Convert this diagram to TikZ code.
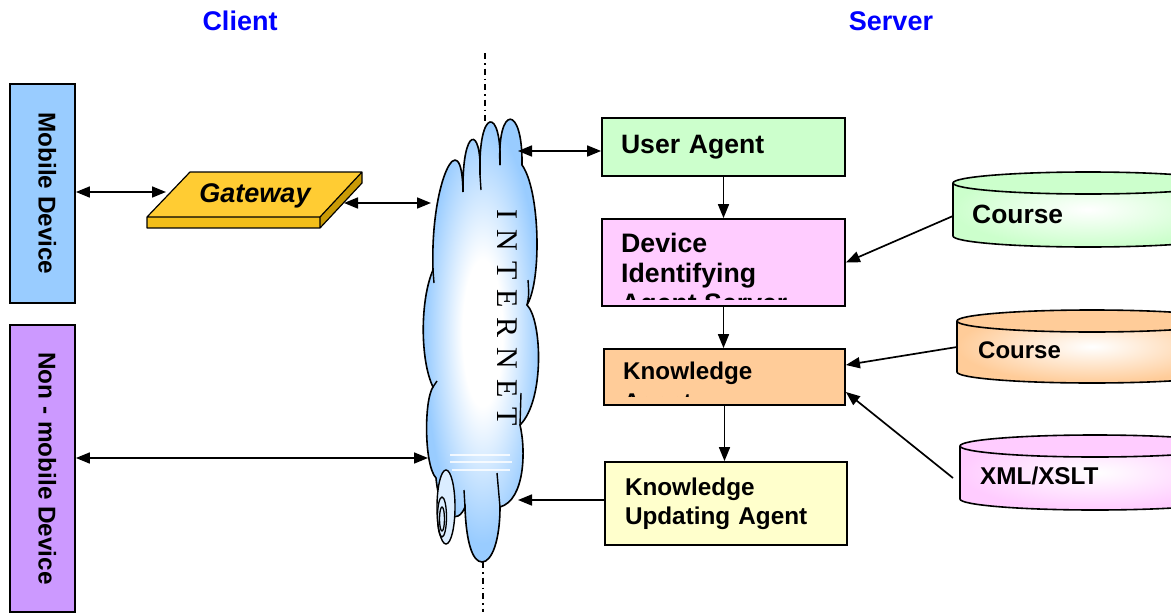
\documentclass[tikz,border=0pt]{standalone}
\usepackage{fontspec}
\setmainfont{Liberation Sans}
\newfontfamily\inetfont{Liberation Serif}
\usetikzlibrary{arrows.meta,calc}

\definecolor{titleblue}{HTML}{0000FF}
\definecolor{mobblue}{HTML}{99CCFF}
\definecolor{nonmob}{HTML}{CC99FF}
\definecolor{gwtop}{HTML}{FFCC33}
\definecolor{gwfront}{HTML}{F2BE1A}
\definecolor{gwside}{HTML}{C99A06}
\definecolor{uagreen}{HTML}{CCFFCC}
\definecolor{dipink}{HTML}{FFCCFF}
\definecolor{kaorange}{HTML}{FFCC99}
\definecolor{kuyellow}{HTML}{FFFFCC}
\definecolor{cloudblue}{HTML}{99CCFF}

% white core fading to blue towards the rim of the cloud
\pgfdeclareradialshading{cloudsh}{\pgfpoint{0bp}{0bp}}{rgb(0bp)=(1,1,1); rgb(8bp)=(1,1,1); rgb(23bp)=(0.6,0.8,1); rgb(50bp)=(0.6,0.8,1)}

\begin{document}
\begin{tikzpicture}[x=1pt,y=1pt,
  boxst/.style={draw=black, line width=1.8pt, rectangle, inner sep=0pt},
  boxtext/.style={inner sep=0pt, align=left},
  arr/.style={line width=1.7pt, -{Triangle[length=14pt,width=11pt]}},
  darr/.style={line width=1.7pt, {Triangle[length=14pt,width=11pt]}-{Triangle[length=14pt,width=11pt]}},
  divider/.style={line width=1.5pt, dash pattern=on 6pt off 4pt on 1.5pt off 4pt},
  outline/.style={draw=black, line width=1.6pt},
  title/.style={font=\bfseries\fontsize{27}{32}\selectfont, text=titleblue}]

\useasboundingbox (0,0) rectangle (1171,-616);
\clip (0,0) rectangle (1171,-616);

% column headings
\node[title] (client) at (240,-21) {Client};
\node[title] (server) at (891,-21) {Server};

% client / server divider
\coordinate (dt1) at (485,-53);  \coordinate (dt2) at (485,-121);
\coordinate (db1) at (483,-562); \coordinate (db2) at (483,-612);
\draw[divider] (dt1) -- (dt2);
\draw[divider] (db1) -- (db2);

% client devices
\node[boxst, fill=mobblue, rotate=-90, minimum width=219, minimum height=65, text depth=10pt,
      font=\bfseries\fontsize{24.3}{29}\selectfont] (md) at (42.5,-193.5) {Mobile Device};
\node[boxst, fill=nonmob, rotate=-90, minimum width=287, minimum height=65, text depth=10pt,
      font=\bfseries\fontsize{24.3}{29}\selectfont] (nm) at (42.5,-468.5) {Non - mobile Device};

% gateway slab
\fill[gwtop] (147,-217) -- (190,-172) -- (362,-172) -- (320,-217) -- cycle;
\fill[gwfront] (147,-217) -- (320,-217) -- (320,-228) -- (147,-228) -- cycle;
\fill[gwside] (320,-217) -- (362,-172) -- (362,-183) -- (320,-228) -- cycle;
\draw[line width=1.2pt, line join=round] (147,-217) -- (190,-172) -- (362,-172) -- (362,-183) -- (320,-228) -- (147,-228) -- cycle
  (147,-217) -- (320,-217) -- (362,-172) (320,-217) -- (320,-228);
\node[font=\bfseries\itshape\fontsize{27}{32}\selectfont] (gw) at (255,-196) {Gateway};
\coordinate (gwl) at (166,-192);
\coordinate (gwr) at (344,-203);

% internet cloud
\path[outline, shading=cloudsh] (480,-175)
  .. controls (478,-106) and (502,-106) .. (500,-165)
  .. controls (497,-104) and (523,-104) .. (522,-165)
  .. controls (540,-190) and (542,-280) .. (527,-305)
  .. controls (542,-320) and (545,-400) .. (520,-425)
  .. controls (526,-450) and (525,-500) .. (500,-507)
  .. controls (500,-540) and (492,-562) .. (482,-562)
  .. controls (472,-562) and (466,-540) .. (465,-507)
  .. controls (458,-525) and (440,-520) .. (436,-478)
  .. controls (424,-465) and (424,-400) .. (433,-387)
  .. controls (420,-360) and (420,-300) .. (433,-270)
  .. controls (430,-180) and (462,-120) .. (463,-192)
  .. controls (462,-125) and (482,-125) .. cycle;
% inner folds of the cloud
\draw[line width=1.4pt] (480,-175) -- (481,-190)
  (500,-165) -- (500,-148)
  (527,-305) .. controls (529,-295) .. (528,-280)
  (520,-425) -- (521,-393)
  (500,-507) -- (497,-473)
  (465,-507) -- (464,-490)
  (433,-270) -- (434,-283)
  (433,-387) -- (437,-381);
% highlight streaks
\draw[white, line width=2pt, opacity=0.8] (450,-455) -- (510,-455) (450,-462) -- (512,-462) (452,-470) -- (510,-470);
% rolled tail
\filldraw[fill=cloudblue!35!white, line width=1.4pt] (446,-507) ellipse [x radius=9, y radius=37];
\draw[line width=1.3pt] (442,-517) ellipse [x radius=4.5, y radius=20];
\draw[line width=1.3pt] (442,-519) ellipse [x radius=2.5, y radius=12];
\node[rotate=-90, inner sep=0pt, font=\inetfont\fontsize{30}{34}\selectfont] (inet) at (507,-318)
  {I\hspace{10pt}N\hspace{10pt}T\hspace{10pt}E\hspace{10pt}R\hspace{10pt}N\hspace{10pt}E\hspace{10pt}T};
\coordinate (cl2) at (431,-203);
\coordinate (cl3) at (428,-458);
\coordinate (cr1) at (518,-151);
\coordinate (cr2) at (518,-500);

% server agents
\node[boxst, fill=uagreen, minimum width=243, minimum height=58, text width=205, inner xsep=19pt,
      align=left, font=\bfseries\fontsize{26.6}{30}\selectfont] (ua) at (723.5,-147) {User Agent};

\node[boxst, fill=dipink, minimum width=243, minimum height=87] (di) at (723.5,-262.5) {};
\begin{scope}
  \clip (603,-220) rectangle (844,-299);
  \node[boxtext, anchor=north west, font=\bfseries\fontsize{26.7}{30}\selectfont] (ditext) at (621,-233)
    {Device\\Identifying\\Agent Server};
\end{scope}

\node[boxst, fill=kaorange, minimum width=241, minimum height=56] (ka) at (724.5,-377) {};
\begin{scope}
  \clip (605,-350) rectangle (844,-396.5);
  \node[boxtext, anchor=north west, font=\bfseries\fontsize{24.2}{31}\selectfont] (katext) at (623,-362)
    {Knowledge\\Agent};
\end{scope}

\node[boxst, fill=kuyellow, minimum width=242, minimum height=83, text width=202, inner xsep=20pt,
      align=left, font=\bfseries\fontsize{24.3}{29}\selectfont] (ku) at (726,-503.5) {Knowledge\\Updating Agent};

% data stores
\shade[inner color=white, outer color=uagreen] (953,-183) -- (953,-236)
  arc[start angle=180, end angle=360, x radius=135, y radius=11] -- (1223,-183)
  arc[start angle=0, end angle=180, x radius=135, y radius=11] -- cycle;
\draw[outline] (953,-183) -- (953,-236) arc[start angle=180, end angle=360, x radius=135, y radius=11] -- (1223,-183);
\filldraw[fill=uagreen, line width=1.6pt] (1088,-183) ellipse [x radius=135, y radius=11];
\node[anchor=west, inner sep=0pt, font=\bfseries\fontsize{26.4}{30}\selectfont] (c1) at (972,-214) {Course};
\coordinate (c1w) at (953,-216);

\shade[inner color=white, outer color=kaorange] (957,-321) -- (957,-372)
  arc[start angle=180, end angle=360, x radius=135, y radius=11] -- (1227,-321)
  arc[start angle=0, end angle=180, x radius=135, y radius=11] -- cycle;
\draw[outline] (957,-321) -- (957,-372) arc[start angle=180, end angle=360, x radius=135, y radius=11] -- (1227,-321);
\filldraw[fill=kaorange, line width=1.6pt] (1092,-321) ellipse [x radius=135, y radius=11];
\node[anchor=west, inner sep=0pt, font=\bfseries\fontsize{24}{29}\selectfont] (c2) at (978,-350) {Course};
\coordinate (c2w) at (957,-347);

\shade[inner color=white, outer color=dipink] (960,-446) -- (960,-499)
  arc[start angle=180, end angle=360, x radius=135, y radius=11] -- (1230,-446)
  arc[start angle=0, end angle=180, x radius=135, y radius=11] -- cycle;
\draw[outline] (960,-446) -- (960,-499) arc[start angle=180, end angle=360, x radius=135, y radius=11] -- (1230,-446);
\filldraw[fill=dipink, line width=1.6pt] (1095,-446) ellipse [x radius=135, y radius=11];
\node[anchor=west, inner sep=0pt, font=\bfseries\fontsize{24.3}{29}\selectfont] (c3) at (980,-476) {XML/XSLT};
\coordinate (c3w) at (953,-478);

% connectors
\draw[darr] (md.north |- gwl) -- (gwl);
\draw[darr] (gwr) -- (cl2);
\draw[darr] (nm.north |- cl3) -- (cl3);
\draw[darr] (cr1) -- (ua.west |- cr1);
\draw[arr] (ua.south) -- (ua.south |- di.north);
\draw[arr] (di.south) -- (di.south |- ka.north);
\draw[arr] (ka.south) -- (ka.south |- ku.north);
\draw[arr] (ku.west |- cr2) -- (cr2);
\draw[arr] (c1w) -- (di.east);
\draw[arr] (c2w) -- ($(ka.east)+(0,12)$);
\draw[arr] (c3w) -- ($(ka.east)+(0,-15)$);

\end{tikzpicture}
\end{document}
